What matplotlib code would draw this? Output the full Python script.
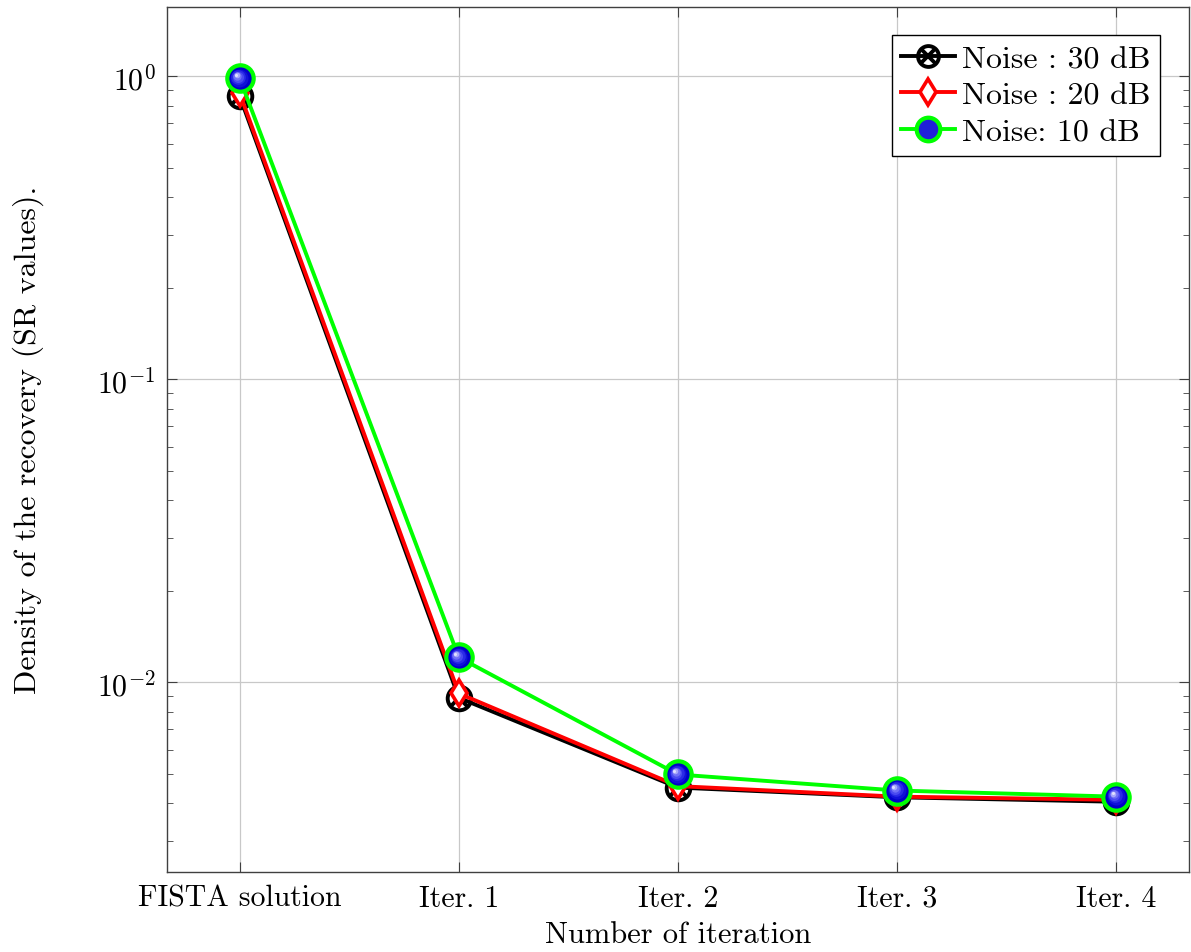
import numpy as np
import matplotlib.pyplot as plt
import matplotlib.transforms as mtransforms
from matplotlib.lines import Line2D

plt.rcParams['font.family'] = 'serif'
plt.rcParams['font.serif'] = ['cmr10', 'DejaVu Serif']
plt.rcParams['mathtext.fontset'] = 'cm'
plt.rcParams['axes.formatter.use_mathtext'] = True
plt.rcParams['font.size'] = 22

# density of recovered solution per iteration
iters = ['FISTA solution', 'Iter. 1', 'Iter. 2', 'Iter. 3', 'Iter. 4']
noise30 = [0.86, 0.0089, 0.0045, 0.00418, 0.00404]
noise20 = [0.88, 0.0092, 0.00455, 0.0042, 0.0041]
noise10 = [0.985, 0.0121, 0.00497, 0.0044, 0.0042]

x = np.arange(len(iters))

fig = plt.figure(figsize=(11.91, 9.53), dpi=100)
ax = fig.add_axes([0.140, 0.084, 0.858, 0.908])

ax.plot(x, noise30, color='black', lw=2.8, marker='o', ms=17, mfc='none',
        mec='black', mew=2.8, zorder=3)
ax.plot(x, noise30, ls='none', marker='x', ms=11, mec='black', mew=2.8, zorder=3)
ax.plot(x, noise20, color='red', lw=2.8, marker='d', ms=13, mfc='white',
        mec='red', mew=2.6, zorder=4)
ax.plot(x, noise10, color='#00ff00', lw=2.8, marker='o', ms=19, mfc='#0000c8',
        mec='#00ff00', mew=3, zorder=5)

# shaded ball look for the 10 dB markers
shades = ['#1010d8', '#2a2ae6', '#4a4af0', '#7070f6', '#a8a8fb', '#e0e0ff']
sizes = [13, 10.5, 8, 6, 4, 2.2]
for k, (c, s) in enumerate(zip(shades, sizes)):
    d = (k + 1) * 0.45
    tr = ax.transData + mtransforms.ScaledTranslation(-d / 72, d / 72, fig.dpi_scale_trans)
    ax.plot(x, noise10, ls='none', marker='o', ms=s, mfc=c, mec='none',
            transform=tr, zorder=6)

ax.set_yscale('log')
ax.set_ylim(2.37e-3, 1.70)
ax.set_xlim(-0.333, 4.33)
ax.set_xticks(x)
ax.set_xticklabels(iters)
ax.set_xlabel('Number of iteration', labelpad=6)
ax.set_ylabel('Density of the recovery (SR values).', fontsize=23, labelpad=38)

ax.grid(True, which='major', color='#c8c8c8', lw=0.9)
ax.tick_params(which='both', direction='in', top=True, right=True, color='#404040')
ax.tick_params(which='major', length=7, labelsize=21.5)
ax.tick_params(axis='x', which='major', pad=9)
ax.tick_params(axis='y', which='major', pad=8)
ax.tick_params(which='minor', length=4)
ax.tick_params(axis='x', which='minor', bottom=False, top=False)
for sp in ax.spines.values():
    sp.set_color('#404040')
    sp.set_linewidth(1.0)

h30 = (Line2D([], [], color='black', lw=2.8, marker='o', ms=15, mfc='none', mec='black', mew=2.8),
       Line2D([], [], ls='none', marker='x', ms=10, mec='black', mew=2.8))
h20 = Line2D([], [], color='red', lw=2.8, marker='d', ms=13, mfc='white', mec='red', mew=2.6)
h10 = Line2D([], [], color='#00ff00', lw=2.8, marker='o', ms=17, mfc='#2020d8',
             mec='#00ff00', mew=3)
leg = ax.legend([h30, h20, h10], ['Noise : 30 dB', 'Noise : 20 dB', 'Noise: 10 dB'],
                loc='upper right', fancybox=False, edgecolor='black', framealpha=1,
                fontsize=23, handlelength=1.7, handletextpad=0.2, borderpad=0.3,
                labelspacing=0.25, borderaxespad=0.9)
leg.get_frame().set_linewidth(1.0)

fig.savefig('out.png', dpi=100)
